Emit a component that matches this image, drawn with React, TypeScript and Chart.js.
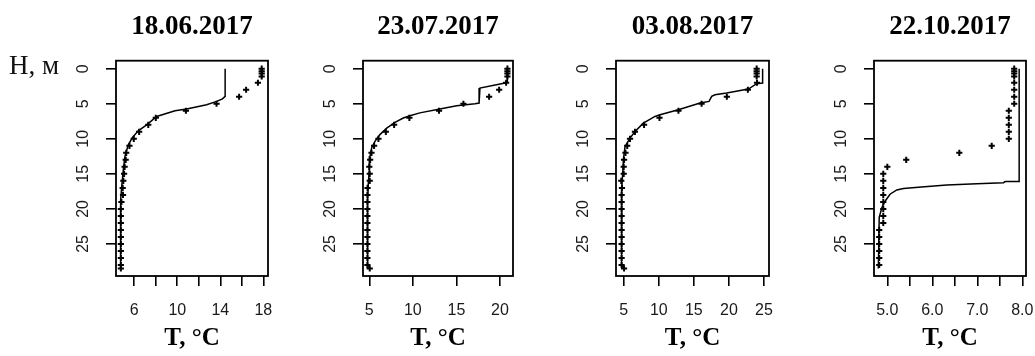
import React, { useEffect, useRef } from 'react';
import { Chart, registerables } from 'chart.js';

Chart.register(...registerables);

// ---------- data ----------
const panelTitles = ['18.06.2017', '23.07.2017', '03.08.2017', '22.10.2017'];
const depthTicks = [0, 5, 10, 15, 20, 25];

// 18.06.2017
const obsDepth1 = [0, 0.35, 0.7, 1.1, 2, 3, 4, 5, 6, 7, 8, 9, 10, 11, 12, 13, 14, 15, 16, 17, 18, 19, 20, 21, 22, 23, 24, 25, 26, 27, 28, 28.5];
const obsTemp1 = [17.85, 17.85, 17.85, 17.85, 17.5, 16.4, 15.75, 13.65, 10.8, 8.0, 7.3, 6.45, 5.95, 5.55, 5.25, 5.2, 5.1, 5.05, 4.98, 4.92, 4.95, 4.8, 4.75, 4.75, 4.75, 4.75, 4.75, 4.75, 4.75, 4.75, 4.75, 4.75];
const modDepth1 = [0, 3.95, 4.3, 4.66, 5.14, 5.76, 6.0, 6.81, 8.0, 8.86, 9.76, 10.86, 12.5, 14.4, 16.8, 18.7, 28.5];
const modTemp1 = [14.45, 14.45, 14.2, 13.66, 12.73, 10.87, 9.79, 8.08, 7.15, 6.37, 5.85, 5.44, 5.13, 4.98, 4.83, 4.73, 4.73];
const xTicks1 = [6, 8, 10, 12, 14, 16, 18];
const xLabels1 = ['6', '', '10', '', '14', '', '18'];

// 23.07.2017
const obsDepth2 = [0, 0.35, 0.7, 1.1, 2, 3, 4, 5, 6, 7, 8, 9, 10, 11, 12, 13, 14, 15, 16, 17, 18, 19, 20, 21, 22, 23, 24, 25, 26, 27, 28, 28.5];
const obsTemp2 = [20.85, 20.85, 20.85, 20.85, 20.7, 19.9, 18.75, 15.8, 13.0, 9.6, 7.85, 6.9, 6.05, 5.55, 5.25, 5.1, 5.0, 5.05, 5.05, 4.8, 4.78, 4.78, 4.78, 4.78, 4.78, 4.78, 4.78, 4.78, 4.78, 4.78, 4.78, 5.05];
const modDepth2 = [0, 1.8, 2.05, 2.76, 2.9, 4.9, 5.0, 5.28, 5.75, 6.3, 6.7, 7.03, 7.65, 8.46, 9.4, 10.36, 11.3, 12.5, 14.4, 16.3, 18.7, 28.0, 28.5];
const modTemp2 = [20.84, 20.84, 20.57, 17.7, 17.6, 17.6, 17.13, 15.03, 13.1, 10.8, 9.67, 8.9, 7.95, 7.0, 6.22, 5.65, 5.27, 5.08, 5.0, 4.89, 4.81, 4.81, 5.08];
const xTicks2 = [5, 10, 15, 20];
const xLabels2 = ['5', '10', '15', '20'];

// 03.08.2017
const obsDepth3 = [0, 0.35, 0.7, 1.1, 2, 3, 4, 5, 6, 7, 8, 9, 10, 11, 12, 13, 14, 15, 16, 17, 18, 19, 20, 21, 22, 23, 24, 25, 26, 27, 28, 28.5];
const obsTemp3 = [23.95, 23.95, 23.95, 23.95, 24.0, 22.7, 19.7, 16.1, 12.8, 10.1, 7.9, 6.6, 5.9, 5.5, 5.25, 5.05, 5.0, 5.0, 4.65, 4.75, 4.7, 4.7, 4.7, 4.7, 4.7, 4.7, 4.7, 4.7, 4.7, 4.7, 4.7, 5.05];
const modDepth3 = [0, 2.05, 2.14, 2.9, 3.48, 3.71, 3.95, 4.67, 4.9, 5.86, 6.57, 6.81, 7.76, 8.95, 9.9, 11.1, 13, 15, 17, 28, 28.5];
const modTemp3 = [24.8, 24.8, 23.96, 22.77, 19.68, 18.0, 17.54, 17.16, 15.88, 12.79, 10.17, 9.46, 7.8, 6.61, 5.9, 5.19, 4.95, 4.85, 4.72, 4.7, 5.05];
const xTicks3 = [5, 10, 15, 20, 25];
const xLabels3 = ['5', '10', '15', '20', '25'];

// 22.10.2017
const obsDepth4 = [0, 0.35, 0.7, 1.1, 2, 3, 4, 5, 6, 7, 8, 9, 10, 11, 12, 13, 14, 15, 16, 17, 18, 19, 20, 21, 22, 23, 24, 25, 26, 27, 28];
const obsTemp4 = [7.82, 7.82, 7.82, 7.82, 7.82, 7.82, 7.82, 7.82, 7.7, 7.7, 7.7, 7.7, 7.7, 7.32, 6.6, 5.42, 5.0, 4.91, 4.91, 4.91, 4.91, 4.91, 4.91, 4.91, 4.91, 4.82, 4.82, 4.82, 4.82, 4.82, 4.82];
const modDepth4 = [0, 16.1, 16.1, 16.26, 16.4, 16.6, 16.9, 17.1, 17.3, 17.9, 18.9, 19.8, 21.2, 28.5];
const modTemp4 = [7.93, 7.93, 7.62, 7.58, 6.99, 6.32, 5.69, 5.36, 5.21, 5.06, 4.95, 4.88, 4.82, 4.8];
const xTicks4 = [5.0, 5.5, 6.0, 6.5, 7.0, 7.5, 8.0];
const xLabels4 = ['5.0', '', '6.0', '', '7.0', '', '8.0'];

const xRanges = [
  [4.298, 18.437],
  [4.277, 21.49],
  [3.9, 25.71],
  [4.704, 8.082],
];
const depthRange = [-1.143, 29.57];

const xAxisTitle = 'T, °C';
const yAxisTitle = 'H, м';

// ---------- layout (not data) ----------
const LAYOUT = [
  { canvasLeft: 0, canvasWidth: 282, padLeft: 66, padRight: 14 },
  { canvasLeft: 313, canvasWidth: 214, padLeft: 0, padRight: 14 },
  { canvasLeft: 566, canvasWidth: 217, padLeft: 0, padRight: 14 },
  { canvasLeft: 824, canvasWidth: 211, padLeft: 0, padRight: 9 },
];
const H = 356;

const PANELS = [
  { obsT: obsTemp1, obsH: obsDepth1, modT: modTemp1, modH: modDepth1, xt: xTicks1, xl: xLabels1 },
  { obsT: obsTemp2, obsH: obsDepth2, modT: modTemp2, modH: modDepth2, xt: xTicks2, xl: xLabels2 },
  { obsT: obsTemp3, obsH: obsDepth3, modT: modTemp3, modH: modDepth3, xt: xTicks3, xl: xLabels3 },
  { obsT: obsTemp4, obsH: obsDepth4, modT: modTemp4, modH: modDepth4, xt: xTicks4, xl: xLabels4 },
];

const SANS = '"Liberation Sans", Arial, sans-serif';
const SERIF = '"Liberation Serif", "Times New Roman", serif';

const boxPlugin = {
  id: 'rbox',
  afterDatasetsDraw(chart: any) {
    const { ctx, chartArea } = chart;
    ctx.save();
    ctx.strokeStyle = '#000';
    ctx.lineWidth = 1.8;
    ctx.strokeRect(chartArea.left, chartArea.top, chartArea.right - chartArea.left, chartArea.bottom - chartArea.top);
    ctx.restore();
  },
};

const hLabelPlugin = {
  id: 'hlabel',
  afterDraw(chart: any) {
    const ctx = chart.ctx;
    ctx.save();
    ctx.fillStyle = '#111';
    ctx.font = '27px ' + SERIF;
    ctx.textAlign = 'left';
    ctx.textBaseline = 'middle';
    ctx.fillText(yAxisTitle, 9, 67);
    ctx.restore();
  },
};

function Panel({ idx }: { idx: number }) {
  const ref = useRef<HTMLCanvasElement>(null);
  const lay = LAYOUT[idx];
  useEffect(() => {
    const p = PANELS[idx];
    const [xmin, xmax] = xRanges[idx];
    const chart = new Chart(ref.current as HTMLCanvasElement, {
      type: 'scatter',
      data: {
        datasets: [
          {
            data: p.modT.map((t, i) => ({ x: t, y: p.modH[i] })),
            showLine: true,
            borderColor: '#000',
            borderWidth: 1.5,
            pointRadius: 0,
            fill: false,
            tension: 0,
          },
          {
            data: p.obsT.map((t, i) => ({ x: t, y: p.obsH[i] })),
            showLine: false,
            pointStyle: 'cross',
            pointRadius: 3.1,
            borderColor: '#000',
            backgroundColor: '#000',
            borderWidth: 2,
          },
        ],
      } as any,
      options: {
        responsive: false,
        animation: false,
        events: [],
        layout: { padding: { left: lay.padLeft, right: lay.padRight, top: 0, bottom: 0 } },
        plugins: {
          legend: { display: false },
          tooltip: { enabled: false },
          title: {
            display: true,
            text: panelTitles[idx],
            fullSize: false,
            color: '#000',
            font: { family: SERIF, size: 27, weight: 'bold' },
            padding: { top: 10.5, bottom: 17.8 },
          },
        },
        scales: {
          x: {
            type: 'linear',
            position: 'bottom',
            min: xmin,
            max: xmax,
            afterBuildTicks: (s: any) => {
              s.ticks = p.xt.map((v) => ({ value: v }));
            },
            afterFit: (s: any) => {
              s.height = 80;
              s.paddingLeft = 0;
              s.paddingRight = 0;
            },
            ticks: {
              autoSkip: false,
              maxRotation: 0,
              minRotation: 0,
              padding: 14.5,
              color: '#1a1a1a',
              font: { family: SANS, size: 16 },
              callback: (_v: any, i: number) => p.xl[i],
            },
            grid: { drawOnChartArea: false, drawTicks: true, tickLength: 10, color: '#000', lineWidth: 1.6 },
            border: { display: false },
            title: {
              display: true,
              text: xAxisTitle,
              color: '#000',
              font: { family: SERIF, size: 25, weight: 'bold' },
              padding: { top: 0, bottom: 2 },
            },
          },
          y: {
            type: 'linear',
            reverse: true,
            min: depthRange[0],
            max: depthRange[1],
            afterBuildTicks: (s: any) => {
              s.ticks = depthTicks.map((v) => ({ value: v }));
            },
            afterFit: (s: any) => {
              s.width = 50;
              s.paddingTop = 0;
              s.paddingBottom = 0;
            },
            ticks: {
              autoSkip: false,
              minRotation: 90,
              maxRotation: 90,
              crossAlign: 'center',
              padding: 14,
              color: '#1a1a1a',
              font: { family: SANS, size: 16 },
            },
            grid: { drawOnChartArea: false, drawTicks: true, tickLength: 10, color: '#000', lineWidth: 1.6 },
            border: { display: false },
          },
        },
      } as any,
      plugins: idx === 0 ? [boxPlugin, hLabelPlugin] : [boxPlugin],
    });
    return () => chart.destroy();
  }, [idx]);
  return (
    <canvas
      ref={ref}
      width={lay.canvasWidth}
      height={H}
      style={{ position: 'absolute', left: lay.canvasLeft, top: 0, width: lay.canvasWidth, height: H }}
    />
  );
}

export default function App() {
  return (
    <div style={{ position: 'absolute', left: 0, top: 0, width: 1035, height: 356, overflow: 'hidden', background: '#fff' }}>
      {PANELS.map((_, i) => (
        <Panel key={i} idx={i} />
      ))}
    </div>
  );
}
